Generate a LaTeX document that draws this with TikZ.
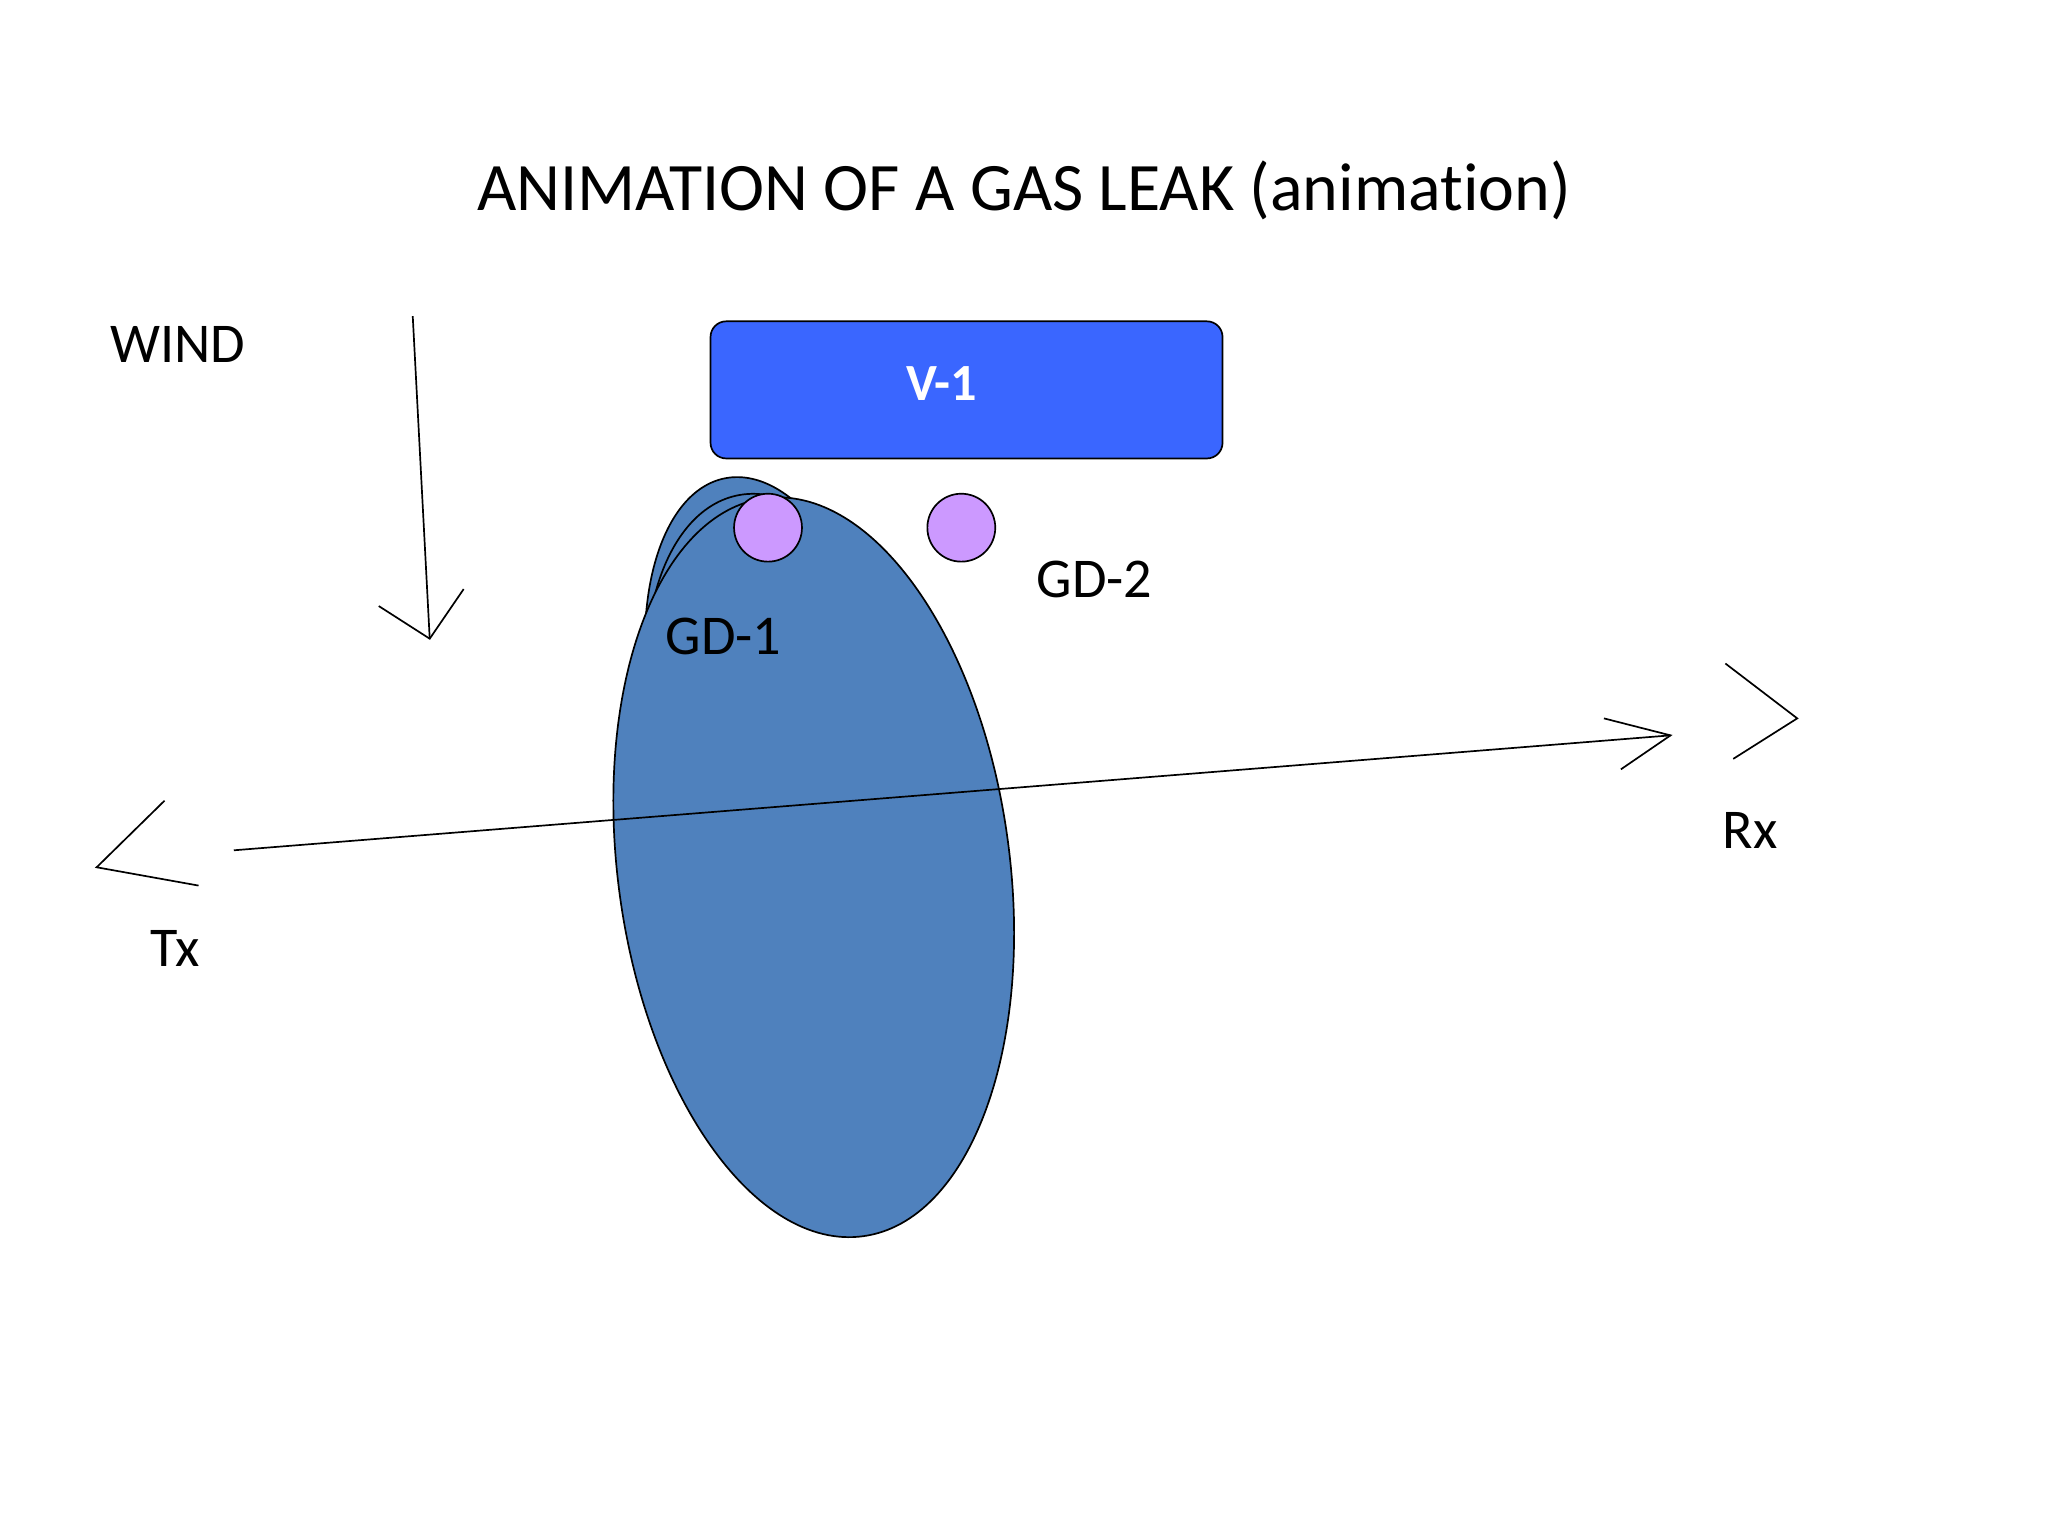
\documentclass[tikz,border=0pt]{standalone}
\usepackage{fontspec}
\setmainfont[Ligatures={NoCommon}]{Carlito}
\begin{document}
\begin{tikzpicture}[x=1pt,y=-1pt,
  lbl/.style={font=\fontsize{43}{48}\selectfont, inner sep=0},
  thin line/.style={draw=black, line width=1.3pt},
  gas/.style={fill=gasblue, draw=black, line width=1.3pt},
  det/.style={circle, minimum size=52pt, inner sep=0, fill=detpurple, draw=black, line width=1.3pt}]
\definecolor{gasblue}{HTML}{4F81BD}
\definecolor{detpurple}{HTML}{CC99FF}
\definecolor{vblue}{HTML}{3A66FF}
\useasboundingbox (0,0) rectangle (1568,1176);
\fill[white] (0,0) rectangle (1568,1176);
\node[font=\fontsize{52}{58}\selectfont, inner sep=0] (title) at (784,146) {ANIMATION OF A GAS LEAK (animation)};
% gas cloud
\draw[gas] (588,535) ellipse [x radius=90, y radius=172, rotate=11];
\draw[gas] (598,548) ellipse [x radius=100, y radius=172, rotate=11];
\draw[gas] (623,664) ellipse [x radius=150, y radius=285, rotate=7.6];
% vessel
\node[draw=black, line width=1.3pt, fill=vblue, rounded corners=12pt, minimum width=392pt, minimum height=105pt, inner sep=0] (v1) at (740,298.5) {};
\node[font=\bfseries\fontsize{40}{44}\selectfont, text=white, inner sep=0] (v1l) at (721,294) {V-1};
% detectors
\node[det] (gd1) at (588,404) {};
\node[det] (gd2) at (736,404) {};
\node[lbl] (gd1l) at (554,487) {GD-1};
\node[lbl] (gd2l) at (838,444) {GD-2};
% wind
\node[lbl] (wind) at (136,264) {WIND};
\coordinate (w0) at (316,242); \coordinate (w1) at (329,489);
\coordinate (wa) at (290,464); \coordinate (wb) at (355,451);
\draw[thin line] (w0) -- (w1);
\draw[thin line] (wa) -- (w1) -- (wb);
% beam
\coordinate (b0) at (179,651); \coordinate (b1) at (1279,563);
\coordinate (ba) at (1228,550); \coordinate (bb) at (1241,589);
\draw[thin line] (b0) -- (b1);
\draw[thin line] (ba) -- (b1) -- (bb);
% Rx
\coordinate (r0) at (1321,508); \coordinate (r1) at (1376,550); \coordinate (r2) at (1327,581);
\draw[thin line] (r0) -- (r1) -- (r2);
\node[lbl] (rx) at (1340,636) {Rx};
% Tx
\coordinate (t0) at (126,613); \coordinate (t1) at (74,664); \coordinate (t2) at (152,678);
\draw[thin line] (t0) -- (t1) -- (t2);
\node[lbl] (tx) at (134,726) {Tx};
\end{tikzpicture}
\end{document}
